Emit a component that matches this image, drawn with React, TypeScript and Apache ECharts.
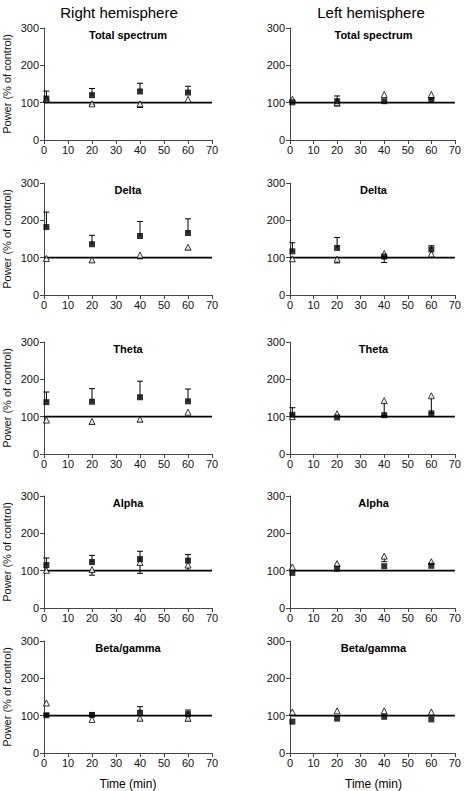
import React, { useEffect, useRef } from "react";
import * as echarts from "echarts";

// ---- Data ----
const TIMES = [1, 20, 40, 60];
const PANEL_NAMES = ["Total spectrum", "Delta", "Theta", "Alpha", "Beta/gamma"];
const COLUMN_TITLES = ["Right hemisphere", "Left hemisphere"];
const Y_AXIS_NAME = "Power (% of control)";
const X_AXIS_NAME = "Time (min)";

// Right hemisphere: filled squares (mean, upward error) and open triangles (mean, downward error)
const rightSquareMeans = [
  [111, 120, 130, 127],
  [182, 136, 158, 166],
  [139, 140, 152, 141],
  [115, 123, 131, 127],
  [101, 102, 108, 104],
];
const rightSquareErr = [
  [20, 18, 22, 17],
  [40, 24, 39, 38],
  [27, 35, 43, 33],
  [19, 18, 21, 16],
  [5, 5, 16, 11],
];
const rightTriangleMeans = [
  [110, 97, 97, 109],
  [98, 94, 107, 128],
  [91, 87, 93, 112],
  [101, 103, 122, 115],
  [134, 90, 93, 93],
];
const rightTriangleErr = [
  [0, 3, 10, 0],
  [0, 6, 10, 6],
  [0, 6, 6, 0],
  [0, 15, 29, 14],
  [0, 0, 5, 7],
];

// Left hemisphere
const leftSquareMeans = [
  [101, 104, 104, 107],
  [117, 126, 103, 122],
  [105, 98, 104, 109],
  [94, 105, 112, 113],
  [84, 92, 97, 90],
];
const leftSquareErr = [
  [5, 14, 0, 3],
  [23, 28, 0, 10],
  [19, 0, 0, 0],
  [0, 0, 0, 0],
  [0, 0, 0, 0],
];
const leftTriangleMeans = [
  [109, 100, 122, 122],
  [97, 96, 111, 110],
  [100, 108, 143, 156],
  [110, 119, 139, 124],
  [110, 113, 113, 110],
];
const leftTriangleErr = [
  [0, 9, 0, 0],
  [0, 10, 24, 0],
  [0, 0, 40, 47],
  [0, 5, 15, 5],
  [0, 0, 0, 0],
];

const CONTROL_LEVEL = 100;

// ---- Layout ----
const W = 464;
const H = 791;
const ROW_TOPS = [28, 183, 342, 496, 641];
const COL_LEFTS = [44, 290];
const COL_WIDTHS = [168, 167];
const HEADING_X = [119, 371];
const GRID_H = 112;
const FONT = "Liberation Sans, Arial, Helvetica, sans-serif";

function errorRender(params: any, api: any) {
  const x = api.value(0);
  const y0 = api.value(1);
  const y1 = api.value(2);
  const p0 = api.coord([x, y0]);
  const p1 = api.coord([x, y1]);
  const st = { stroke: "#000", lineWidth: 1 };
  return {
    type: "group",
    children: [
      { type: "line", shape: { x1: p0[0], y1: p0[1], x2: p1[0], y2: p1[1] }, style: st },
      { type: "line", shape: { x1: p1[0] - 3, y1: p1[1], x2: p1[0] + 3, y2: p1[1] }, style: st },
    ],
  };
}

function buildOption() {
  const grid: any[] = [];
  const xAxis: any[] = [];
  const yAxis: any[] = [];
  const series: any[] = [];
  const graphic: any[] = [];

  const cols = [
    { sq: rightSquareMeans, sqE: rightSquareErr, tr: rightTriangleMeans, trE: rightTriangleErr },
    { sq: leftSquareMeans, sqE: leftSquareErr, tr: leftTriangleMeans, trE: leftTriangleErr },
  ];

  cols.forEach((col, c) => {
    PANEL_NAMES.forEach((name, r) => {
      const idx = grid.length;
      grid.push({
        left: COL_LEFTS[c],
        top: ROW_TOPS[r],
        width: COL_WIDTHS[c],
        height: GRID_H,
        containLabel: false,
      });
      xAxis.push({
        gridIndex: idx,
        type: "value",
        min: 0,
        max: 70,
        interval: 10,
        axisLine: { show: true, onZero: false, lineStyle: { color: "#444", width: 1 } },
        axisTick: { show: true, length: 4, lineStyle: { color: "#444" } },
        axisLabel: { margin: 4, fontSize: 11, color: "#111", fontFamily: FONT },
        splitLine: { show: false },
      });
      yAxis.push({
        gridIndex: idx,
        type: "value",
        min: 0,
        max: 300,
        interval: 100,
        name: c === 0 ? Y_AXIS_NAME : "",
        nameLocation: "middle",
        nameRotate: 90,
        nameGap: 32,
        nameTextStyle: { fontSize: 11, color: "#111", fontFamily: FONT },
        axisLine: { show: true, onZero: false, lineStyle: { color: "#444", width: 1 } },
        axisTick: { show: true, length: 4, lineStyle: { color: "#444" } },
        axisLabel: { margin: 5, fontSize: 11, color: "#111", fontFamily: FONT },
        splitLine: { show: false },
      });

      // control reference line
      series.push({
        type: "line",
        xAxisIndex: idx,
        yAxisIndex: idx,
        data: [
          [0, CONTROL_LEVEL],
          [70, CONTROL_LEVEL],
        ],
        symbol: "none",
        lineStyle: { color: "#000", width: 1.6 },
        z: 1,
        silent: true,
      });

      const errData: any[] = [];
      TIMES.forEach((t, k) => {
        const e1 = col.sqE[r][k];
        if (e1 > 0) errData.push([t, col.sq[r][k], col.sq[r][k] + e1]);
        const e2 = col.trE[r][k];
        if (e2 > 0) errData.push([t, col.tr[r][k], col.tr[r][k] - e2]);
      });
      series.push({
        type: "custom",
        xAxisIndex: idx,
        yAxisIndex: idx,
        data: errData,
        renderItem: errorRender,
        z: 2,
        silent: true,
      });
      series.push({
        type: "scatter",
        xAxisIndex: idx,
        yAxisIndex: idx,
        data: TIMES.map((t, k) => [t, col.tr[r][k]]),
        symbol: "triangle",
        symbolSize: 6,
        itemStyle: { color: "#fff", borderColor: "#000", borderWidth: 1 },
        z: 3,
      });
      series.push({
        type: "scatter",
        xAxisIndex: idx,
        yAxisIndex: idx,
        data: TIMES.map((t, k) => [t, col.sq[r][k]]),
        symbol: "rect",
        symbolSize: 6,
        itemStyle: { color: "#000" },
        z: 4,
      });

      graphic.push({
        type: "text",
        x: COL_LEFTS[c] + COL_WIDTHS[c] / 2,
        y: ROW_TOPS[r] + 1,
        style: {
          text: name,
          fill: "#000",
          font: `bold 11px ${FONT}`,
          textAlign: "center",
          align: "center",
          textVerticalAlign: "top",
          verticalAlign: "top",
        },
      });
    });

    graphic.push({
      type: "text",
      x: HEADING_X[c],
      y: 12,
      style: {
        text: COLUMN_TITLES[c],
        fill: "#000",
        font: `15px ${FONT}`,
        textAlign: "center",
        align: "center",
        textVerticalAlign: "middle",
        verticalAlign: "middle",
      },
    });
    graphic.push({
      type: "text",
      x: COL_LEFTS[c] + COL_WIDTHS[c] / 2,
      y: 784,
      style: {
        text: X_AXIS_NAME,
        fill: "#000",
        font: `12px ${FONT}`,
        textAlign: "center",
        align: "center",
        textVerticalAlign: "middle",
        verticalAlign: "middle",
      },
    });
  });

  return {
    animation: false,
    backgroundColor: "#fff",
    grid,
    xAxis,
    yAxis,
    series,
    graphic,
  };
}

export default function App() {
  const ref = useRef<HTMLDivElement>(null);
  useEffect(() => {
    if (!ref.current) return;
    const chart = echarts.init(ref.current, undefined, { renderer: "svg", width: W, height: H });
    chart.setOption(buildOption() as any);
    return () => chart.dispose();
  }, []);
  return (
    <div
      ref={ref}
      style={{ position: "absolute", left: 0, top: 0, width: W, height: H, background: "#fff" }}
    />
  );
}
